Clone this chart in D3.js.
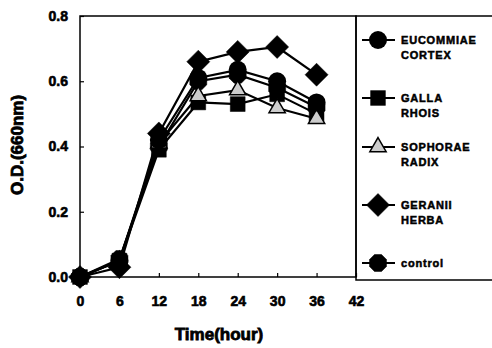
<!DOCTYPE html>
<html>
<head>
<meta charset="utf-8">
<script src="https://cdn.jsdelivr.net/npm/d3@7"></script>
<style>
  body { margin: 0; background: #fff; }
  text { font-family: "Liberation Sans", Arial, sans-serif; font-weight: bold; fill: #000; stroke: #000; stroke-width: 0.6px; }
</style>
</head>
<body>
<svg id="chart" width="492" height="348"></svg>
<script>
const hours = [0, 6, 12, 18, 24, 30, 36];
const xTicks = [0, 6, 12, 18, 24, 30, 36, 42];
const yTicks = [0, 0.2, 0.4, 0.6, 0.8];

const names = ["EUCOMMIAE CORTEX", "GALLA RHOIS", "SOPHORAE RADIX", "GERANII HERBA", "control"];
const shapes = ["circle", "square", "triangle", "diamond", "octagon"];

const eucommiae = [0, 0.05, 0.42, 0.61, 0.635, 0.60, 0.535];
const galla = [0, 0.05, 0.39, 0.535, 0.53, 0.56, 0.50];
const sophorae = [0, 0.05, 0.41, 0.555, 0.573, 0.518, 0.485];
const geranii = [0, 0.03, 0.44, 0.66, 0.69, 0.705, 0.62];
const control = [0, 0.055, 0.40, 0.60, 0.62, 0.58, 0.52];

const series = [eucommiae, galla, sophorae, geranii, control];

const svg = d3.select("#chart");
const x = d3.scaleLinear([0, 42], [80, 356]);
const y = d3.scaleLinear([0, 0.8], [277, 16]);

// plot frame
svg.append("rect")
    .attr("x", 80).attr("y", 16)
    .attr("width", 276).attr("height", 261)
    .attr("fill", "none").attr("stroke", "#000").attr("stroke-width", 1.5);

// legend frame
svg.append("rect")
    .attr("x", 356).attr("y", 16)
    .attr("width", 140).attr("height", 264)
    .attr("fill", "none").attr("stroke", "#000").attr("stroke-width", 1.5);

const xAxis = svg.append("g")
    .attr("transform", "translate(0,277)")
    .call(d3.axisBottom(x).tickValues(xTicks).tickSize(-4).tickPadding(19).tickFormat(d3.format("d")));
const yAxis = svg.append("g")
    .attr("transform", "translate(80,0)")
    .call(d3.axisLeft(y).tickValues(yTicks).tickSize(-4).tickPadding(12).tickFormat(d3.format(".1f")));

[xAxis, yAxis].forEach(a => {
    a.select(".domain").remove();
    a.selectAll(".tick line").attr("stroke", "#000").attr("stroke-width", 1.2);
    a.selectAll(".tick text").style("font-size", "14px").style("font-family", "Liberation Sans, Arial").style("font-weight", "bold");
});

svg.append("text")
    .attr("x", 219).attr("y", 340)
    .attr("text-anchor", "middle")
    .style("font-size", "17px")
    .style("stroke-width", "0.8px")
    .text("Time(hour)");

svg.append("text")
    .attr("transform", "translate(23,145) rotate(-90)")
    .attr("text-anchor", "middle")
    .style("font-size", "17px")
    .style("stroke-width", "0.8px")
    .text("O.D.(660nm)");

const marker = (g, shape, cx, cy) => {
    const fill = shape === "triangle" ? "#ccc" : "#000";
    let path;
    switch (shape) {
        case "circle":
            g.append("circle").attr("cx", cx).attr("cy", cy).attr("r", 9).attr("fill", fill);
            return;
        case "square":
            path = d3.symbol(d3.symbolSquare, 220)();
            break;
        case "triangle":
            path = d3.symbol(d3.symbolTriangle, 115)();
            break;
        case "diamond": {
            const s = 11.5;
            path = `M0,${-s}L${s},0L0,${s}L${-s},0Z`;
            break;
        }
        case "octagon": {
            const pts = d3.range(8).map(i => {
                const a = Math.PI / 8 + i * Math.PI / 4;
                return [9.2 * Math.cos(a), 9.2 * Math.sin(a)];
            });
            path = "M" + pts.join("L") + "Z";
            break;
        }
    }
    g.append("path")
        .attr("d", path)
        .attr("transform", `translate(${cx},${cy})`)
        .attr("fill", fill)
        .attr("stroke", "#000")
        .attr("stroke-width", shape === "triangle" ? 1.5 : 0.5);
};

const line = d3.line().x((d, i) => x(hours[i])).y(d => y(d));
const order = [4, 1, 2, 0, 3];

order.forEach(k => {
    svg.append("path")
        .attr("d", line(series[k]))
        .attr("fill", "none")
        .attr("stroke", "#000")
        .attr("stroke-width", 2.2);
});
order.forEach(k => {
    const g = svg.append("g");
    series[k].forEach((v, i) => marker(g, shapes[k], x(hours[i]), y(v)));
});

// legend
const legendY = [40, 98, 147, 205, 263];
names.forEach((n, i) => {
    const g = svg.append("g");
    g.append("line")
        .attr("x1", 362).attr("x2", 395)
        .attr("y1", legendY[i]).attr("y2", legendY[i])
        .attr("stroke", "#000").attr("stroke-width", 2);
    marker(g, shapes[i], 378, legendY[i]);
    const words = n.split(" ");
    words.forEach((w, j) => {
        g.append("text")
            .attr("x", 401)
            .attr("y", legendY[i] + 4 + j * 15)
            .style("font-size", "11px")
            .style("letter-spacing", "0.8px")
            .style("stroke-width", "0.5px")
            .text(w);
    });
});
</script>
</body>
</html>
